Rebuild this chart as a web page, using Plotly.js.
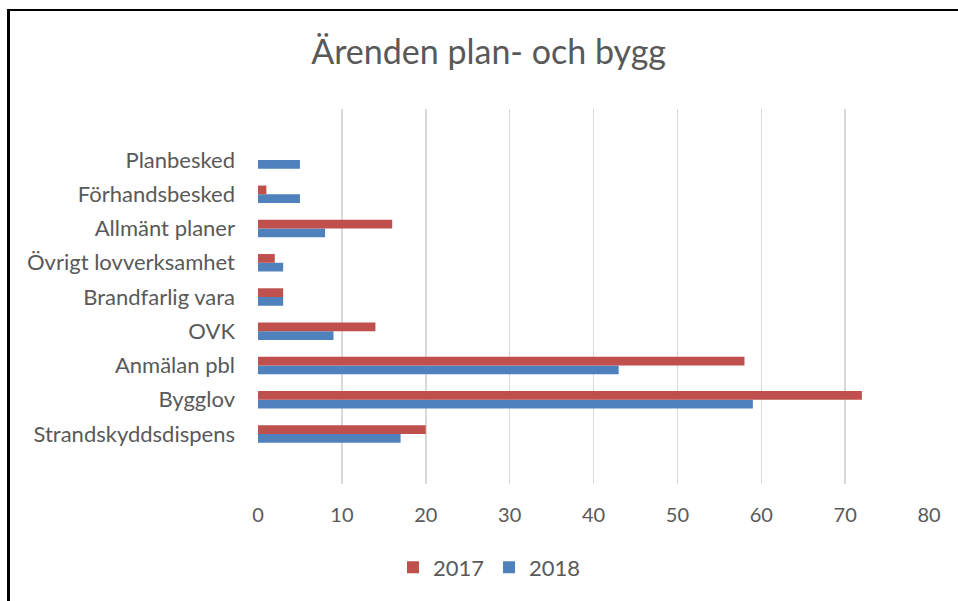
<!DOCTYPE html>
<html>
<head>
<meta charset="utf-8">
<script src="https://cdn.plot.ly/plotly-3.0.1.min.js"></script>
<style>
  html, body { margin: 0; padding: 0; background: #fff; }
  #chart { position: absolute; left: 0; top: 0; width: 958px; height: 601px; }
  #frame { position: absolute; left: 7px; top: 9px; width: 960px; height: 600px;
           border-left: 3px solid #000; border-top: 2px solid #000; pointer-events: none; }
</style>
</head>
<body>
<div id="chart"></div>
<div id="frame"></div>
<script>
// Categories listed bottom to top (Excel order)
const categories = [
  "Strandskyddsdispens", "Bygglov", "Anmälan pbl", "OVK", "Brandfarlig vara",
  "Övrigt lovverksamhet", "Allmänt planer", "Förhandsbesked", "Planbesked"
];
const values2017 = [20, 72, 58, 14, 3, 2, 16, 1, 0];
const values2018 = [17, 59, 43, 9, 3, 3, 8, 5, 5];
const xTicks = [0, 10, 20, 30, 40, 50, 60, 70, 80];
const titleText = "Ärenden plan- och bygg";

const font = "Lato, 'Open Sans', sans-serif";
const grey = "#595959";

const traces = [
  {
    type: "bar", orientation: "h", name: "2018",
    y: categories, x: values2018,
    marker: { color: "#4f81bd" }
  },
  {
    type: "bar", orientation: "h", name: "2017",
    y: categories, x: values2017,
    marker: { color: "#c0504d" }
  }
];

const layout = {
  width: 958, height: 601,
  margin: { l: 258, r: 29, t: 109, b: 117 },
  paper_bgcolor: "#fff", plot_bgcolor: "#fff",
  font: { family: font, color: grey, size: 18 },
  title: {
    text: titleText,
    font: { family: font, size: 34, color: grey },
    x: 0.510, xref: "container", xanchor: "center",
    y: 0.913, yref: "container", yanchor: "middle"
  },
  barmode: "group",
  bargap: 0.49,
  bargroupgap: 0,
  xaxis: {
    range: [0, 80],
    tickvals: xTicks,
    ticktext: xTicks.map(String),
    showgrid: true, gridcolor: "#d9d9d9", gridwidth: 1.5,
    zeroline: false, showline: false, ticks: "",
    tickfont: { family: font, size: 20, color: grey },
    ticklabelstandoff: 17,
    fixedrange: true
  },
  yaxis: {
    type: "category",
    categoryorder: "array", categoryarray: categories,
    range: [-1.46, 9.49],
    showgrid: false, zeroline: false, showline: false, ticks: "",
    tickfont: { family: font, size: 22, color: grey },
    ticklabelstandoff: 22,
    fixedrange: true
  },
  showlegend: true,
  legend: {
    orientation: "h", traceorder: "reversed",
    x: 0.345, xanchor: "center", xref: "paper",
    y: 0.056, yref: "container", yanchor: "middle",
    font: { family: font, size: 22, color: grey },
    itemwidth: 30
  }
};

Plotly.newPlot("chart", traces, layout, { displayModeBar: false, staticPlot: true });
</script>
</body>
</html>
